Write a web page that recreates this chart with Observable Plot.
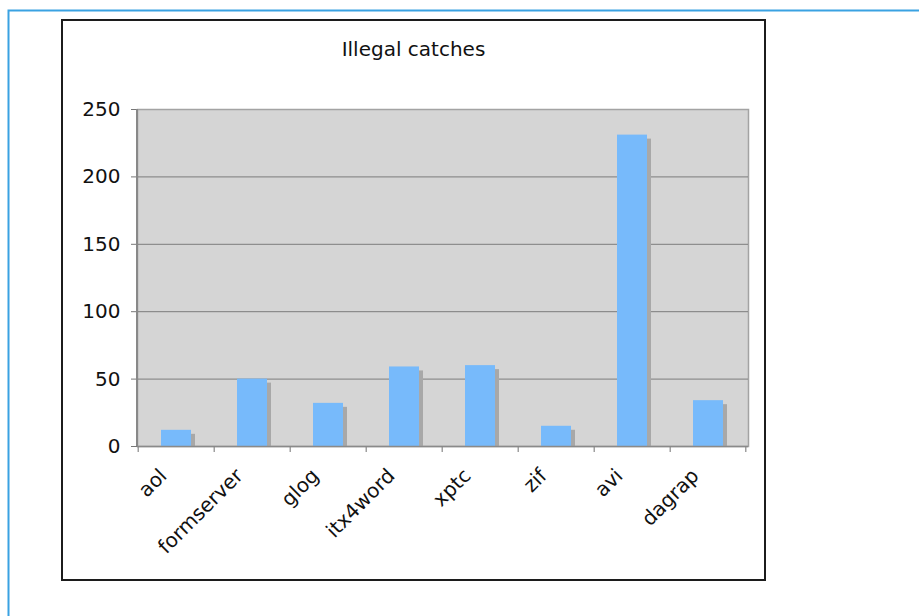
<!DOCTYPE html>
<html><head><meta charset="utf-8">
<script src="https://cdn.jsdelivr.net/npm/d3@7"></script>
<script src="https://cdn.jsdelivr.net/npm/@observablehq/plot@0.6"></script>
<style>body{margin:0;background:#fff} svg{overflow:hidden;display:block}</style>
</head><body><div id="chart"></div>
<script>
const categories = ["aol","formserver","glog","itx4word","xptc","zif","avi","dagrap"];
const values = [12,50,32,59,60,15,231,34];
const yTicks = [0,50,100,150,200,250];
const gridTicks = [50,100,150,200];
const title = "Illegal catches";
const data = categories.map((c,i)=>({name:c, value: values[i]}));

const W=919,H=616, mL=137, mR=171, mT=109, mB=170;
const FONT = "'DejaVu Sans', Verdana, sans-serif";
const chart = Plot.plot({
  width:W, height:H, marginLeft:mL, marginRight:mR, marginTop:mT, marginBottom:mB,
  style:{fontFamily:FONT, fontSize:"20px", color:"#111", background:"#fff"},
  x:{domain:categories, paddingInner:0.6, paddingOuter:0.3, label:null},
  y:{domain:[0,250], label:null},
  marks:[
    Plot.frame({fill:"#d5d5d5", stroke:"#a3a3a3", strokeWidth:1.5}),
    Plot.ruleY(gridTicks, {stroke:"#7c7c7c", strokeWidth:1}),
    Plot.barY(data, {x:"name", y:"value", fill:"#a8a8a8", dx:4, dy:4, clip:true}),
    Plot.barY(data, {x:"name", y:"value", fill:"#77bafb"}),
    Plot.ruleY([0], {stroke:"#8a8a8a", strokeWidth:1.5}),
    Plot.axisY({ticks:yTicks, tickSize:6, tickPadding:11, stroke:"#777", fill:"#111", fontSize:20}),
    Plot.axisX({tickSize:0, tickRotate:-45, tickPadding:16, fill:"#111", fontSize:20, dx:-13, dy:10})
  ]
});
document.getElementById("chart").appendChild(chart);

const svg = d3.select(chart);
const sx = chart.scale("x"), sy = chart.scale("y");
const y0 = sy.apply(0);
const half = 0.3 * sx.step;
const bounds = categories.map(c => sx.apply(c) - half);
bounds.push(sx.apply(categories[categories.length-1]) + sx.bandwidth + half);
const g = svg.append("g").attr("stroke", "#888").attr("stroke-width", 1.2);
bounds.forEach(b => g.append("line").attr("x1", b).attr("x2", b).attr("y1", y0).attr("y2", y0 + 6));
// left axis line
g.append("line").attr("x1", mL).attr("x2", mL).attr("y1", mT).attr("y2", y0).attr("stroke-width", 2);

// chart frames
svg.append("rect").attr("x", 62).attr("y", 20).attr("width", 703).attr("height", 560)
  .attr("fill", "none").attr("stroke", "#1c1c1c").attr("stroke-width", 2);
svg.append("rect").attr("x", 8.5).attr("y", 10.5).attr("width", 1000).attr("height", 1000)
  .attr("fill", "none").attr("stroke", "#3aa2e2").attr("stroke-width", 2);
svg.append("text").attr("x", 413.5).attr("y", 49).attr("text-anchor", "middle")
  .attr("dominant-baseline", "central").attr("font-family", FONT).attr("font-size", 20)
  .attr("fill", "#111").text(title);
</script></body></html>
